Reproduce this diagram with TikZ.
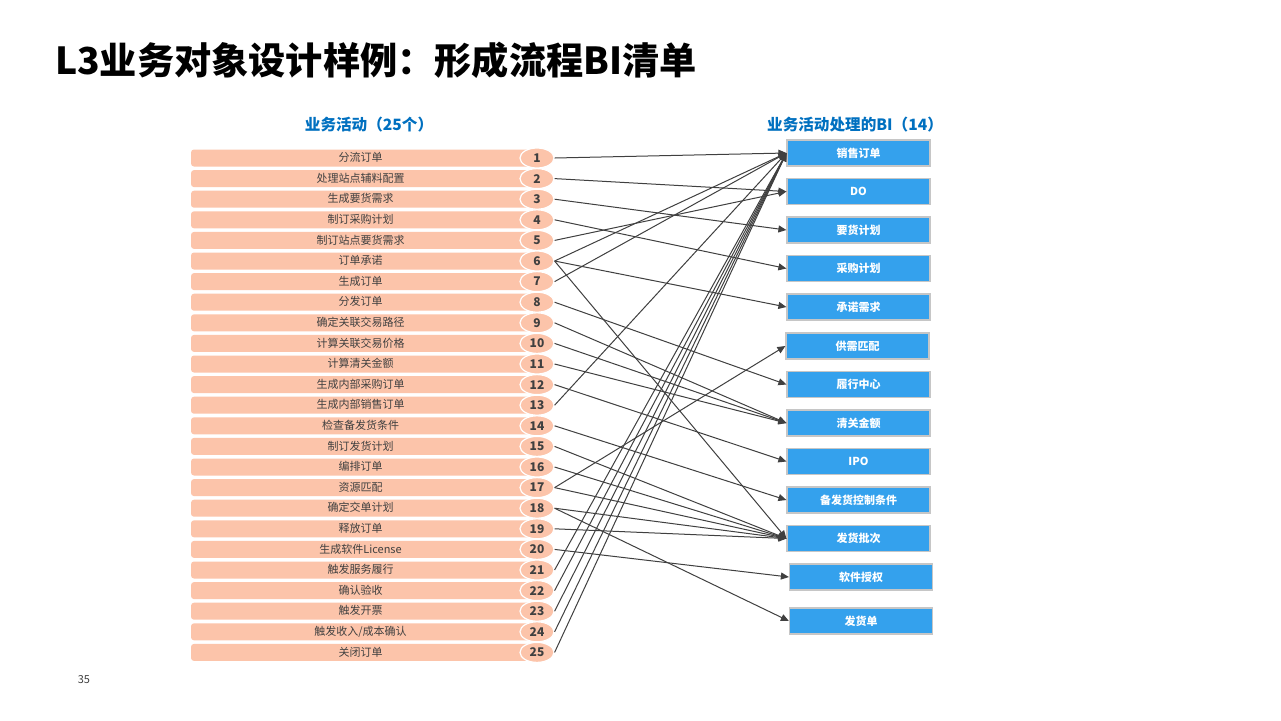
\documentclass[tikz,border=0pt]{standalone}
\usepackage{fontspec}
\setmainfont{Noto Sans CJK SC}
\usetikzlibrary{arrows.meta,shapes.geometric}
\definecolor{peach}{RGB}{252,196,170}
\definecolor{skyblue}{RGB}{52,161,237}
\definecolor{headblue}{RGB}{0,112,192}
\definecolor{darktext}{RGB}{64,64,64}
\tikzset{
  actbar/.style={fill=peach,rounded corners=1.5pt,minimum width=169.5pt,
    minimum height=8.5pt,inner sep=0pt,text=darktext,
    font=\fontsize{5.5}{5.5}\selectfont},
  numell/.style={ellipse,draw=white,line width=0.6pt,fill=peach,
    minimum width=17pt,minimum height=10pt,inner sep=0pt,text=darktext,
    font=\bfseries\fontsize{6}{6}\selectfont},
  bibox/.style={draw=gray!45,line width=0.6pt,fill=skyblue,minimum width=71.5pt,
    minimum height=13pt,inner sep=0pt,text=white,
    font=\bfseries\fontsize{5.5}{5.5}\selectfont},
  head/.style={text=headblue,font=\bfseries\fontsize{7.8}{7.8}\selectfont},
  link/.style={draw=darktext,line width=0.5pt,-{Triangle[length=4pt,width=3.5pt]}},
}
\begin{document}
\begin{tikzpicture}[x=0.5pt,y=-0.5pt]
    \useasboundingbox[fill=white] (0,0) rectangle (1281,720);
    %% Title
    \node[anchor=west,font=\bfseries\fontsize{18.6}{18.6}\selectfont]
        (title) at (48,60) {L3业务对象设计样例：形成流程BI清单};
    \node[head] (acthead) at (369,125) {业务活动（25个）};
    \node[head] (bihead) at (855,125) {业务活动处理的BI（14）};
    %% Activities
    \foreach \lbl [count=\i] in {分流订单,处理站点辅料配置,生成要货需求,
        制订采购计划,制订站点要货需求,订单承诺,生成订单,分发订单,
        确定关联交易路径,计算关联交易价格,计算清关金额,生成内部采购订单,
        生成内部销售订单,检查备发货条件,制订发货计划,编排订单,资源匹配,
        确定交单计划,释放订单,生成软件License,触发服务履行,确认验收,
        触发开票,触发收入/成本确认,关闭订单}
    {
        \pgfmathsetmacro\yy{158+(\i-1)*20.6}
        \node[actbar] (bar\i) at (360.5,\yy) {\raisebox{1pt}{\lbl}};
        \node[numell] (n\i) at (537,\yy) {\i};
    }
    %% BI list
    \foreach \lbl/\xx/\yy [count=\j] in {销售订单/858.5/153,DO/858.5/191.5,
        要货计划/858.5/230,采购计划/858.5/268.5,承诺需求/858.5/307,
        供需匹配/857.5/346,履行中心/858.5/384.5,清关金额/858.5/423,
        IPO/858.5/461.5,备发货控制条件/858.5/500,发货批次/858.5/538.5,
        软件授权/861/577,发货单/861/621}
        \node[bibox] (bi\j) at (\xx,\yy) {\lbl};
    %% Links
    \foreach \s/\t in {1/1,2/2,3/3,4/4,5/2,6/1,6/5,6/11,7/1,8/7,9/8,10/8,
        11/8,12/9,13/1,14/10,15/11,16/11,17/6,17/11,18/11,18/13,19/11,
        20/12,21/1,22/1,23/1,24/1,25/1}
        \draw[link] (n\s.east) -- (bi\t.west);
    %% Page number
    \node[text=darktext,font=\fontsize{5.5}{5.5}\selectfont] (pageno) at (84,680) {35};
\end{tikzpicture}
\end{document}
